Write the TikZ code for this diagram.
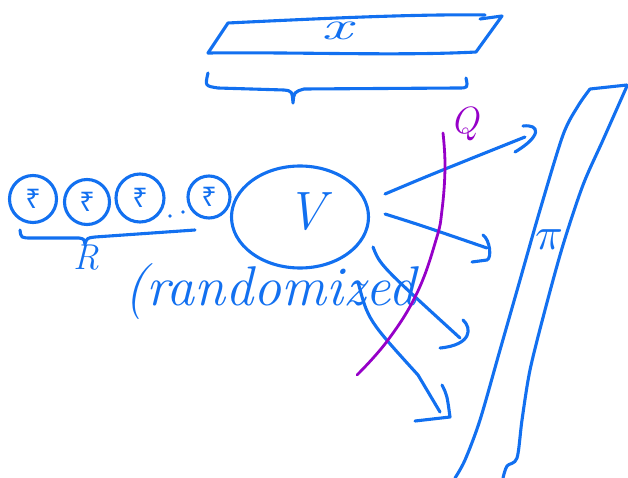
\documentclass[tikz,border=0pt]{standalone}
\usepackage{fontspec}
\usetikzlibrary{shapes.geometric}
\newfontfamily\rupeefont{Noto Sans}
\definecolor{pen}{RGB}{18,112,240}
\definecolor{qpen}{RGB}{150,0,200}
\begin{document}
\begin{tikzpicture}[x=1pt,y=-1pt,
  ink/.style={draw=pen,line width=3.1pt,line cap=round,line join=round},
  qink/.style={draw=qpen,line width=2.8pt,line cap=round,line join=round},
  coin/.style={circle,ink,inner sep=0pt,text=pen,font=\rupeefont\fontsize{27}{27}\selectfont\bfseries},
  lbl/.style={text=pen,inner sep=0pt}]
\useasboundingbox (0,0) rectangle (628,478);

% top parallelogram x
\draw[ink] (208,53) -- (228,23) .. controls (330,18) and (420,14) .. (485,15);
\draw[ink] (480,19) -- (502,16) -- (476,52) .. controls (400,56) and (300,52) .. (208,53);
\node[lbl,font=\fontsize{40}{40}\selectfont\itshape,xscale=1.7] (xl) at (337,31) {x};
% brace under x
\draw[ink] (208,73) .. controls (205,86) .. (218,88) -- (284,90) .. controls (292,91) .. (293,103)
  .. controls (294,92) .. (304,89) -- (458,88) .. controls (468,88) .. (466,78);

% rupee coins
\node[coin,minimum size=47pt] (c1) at (33,199) {₹};
\node[coin,minimum size=45pt] (c2) at (87,202) {₹};
\node[coin,minimum size=48pt] (c3) at (140,198) {₹};
\node[coin,minimum size=42pt] (c4) at (209,197) {₹};
\fill[pen] (170,216) circle (1.8pt) (183,212) circle (1.8pt);
\draw[ink] (20,230) .. controls (21,238) .. (32,238) -- (79,238) .. controls (84,239) .. (85,244)
  .. controls (87,238) .. (95,237) -- (195,230);
\node[lbl,font=\fontsize{36}{36}\selectfont\itshape] (R) at (86,258) {R};

% V circle
\node[ink,ellipse,minimum width=137pt,minimum height=102pt] (V) at (300,217) {};
\node[lbl,font=\fontsize{54}{54}\selectfont\itshape] (Vl) at (306,212) {V};

% randomized
\node[lbl,font=\fontsize{56}{56}\selectfont\itshape,anchor=base west] (rnd) at (124,305) {(randomized};

% arrows
\coordinate (a1s) at (385,194); \coordinate (a1e) at (525,137);
\draw[ink] (a1s) .. controls (430,175) .. (a1e);
\draw[ink] (523,126) .. controls (540,124) and (542,136) .. (515,152);
\coordinate (a2s) at (385,214); \coordinate (a2e) at (487,248);
\draw[ink] (a2s) .. controls (420,225) .. (a2e);
\draw[ink] (483,235) .. controls (490,240) and (492,258) .. (487,260) -- (472,262);
\coordinate (a3s) at (373,247); \coordinate (a3e) at (460,338);
\draw[ink] (a3s) .. controls (380,265) .. (a3e);
\draw[ink] (463,320) .. controls (472,328) and (472,345) .. (440,348);
\coordinate (a4s) at (358,282); \coordinate (a4e) at (440,412);
\draw[ink] (a4s) .. controls (368,320) .. (418,375) -- (a4e);
\draw[ink] (442,385) .. controls (447,395) .. (450,417) -- (415,421);

% Q curve
\draw[qink] plot[smooth,tension=0.7] coordinates {(443,133) (445,167) (442,210) (436,240) (417,293) (388,340) (357,375)};
\node[text=qpen,inner sep=0pt,font=\fontsize{38}{38}\selectfont\itshape] (Q) at (465,124) {Q};

% right slab pi
\draw[ink] plot[smooth,tension=0.5] coordinates {(627,86) (603,140) (583,185) (563,245) (545,310) (530,370) (522,420) (517,458) (507,466) (503,478)};
\draw[ink] plot[smooth,tension=0.5] coordinates {(590,89) (578,106) (563,135) (540,210) (520,280) (500,350) (480,420) (465,460) (455,478)};
\draw[ink] (590,89) -- (627,85);
\node[lbl,scale=4.6] (pi) at (549,240) {$\pi$};
\end{tikzpicture}
\end{document}
